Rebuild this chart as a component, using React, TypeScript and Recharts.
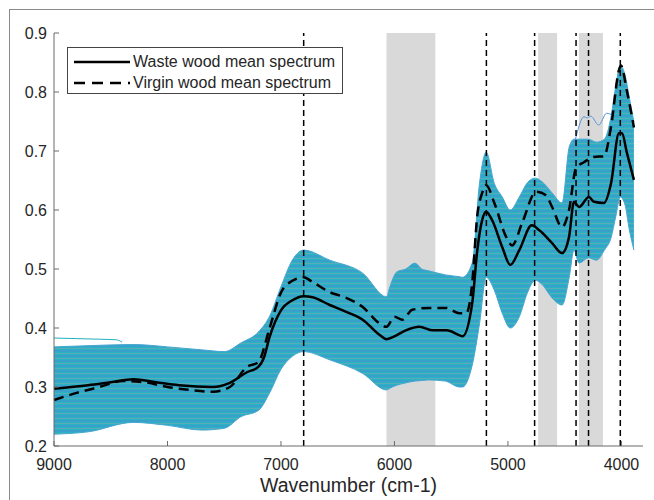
import React from 'react'
import { ComposedChart, Area, Line, XAxis, YAxis, ReferenceArea, ReferenceLine } from 'recharts'

// envelope of all individual spectra (cm-1 / absorbance)
const envWave = [9000, 8700, 8300, 8000, 7700, 7500, 7350, 7200, 7100, 7000, 6900, 6800, 6570, 6280, 6070, 6040, 5980, 5900, 5820, 5760, 5700, 5550, 5430, 5400, 5315, 5250, 5192, 5120, 5050, 4980, 4900, 4830, 4760, 4700, 4611, 4523, 4460, 4418, 4374, 4290, 4220, 4150, 4090, 4050, 4010, 3970, 3930, 3890]
const envUpper = [0.368, 0.37, 0.372, 0.368, 0.363, 0.36, 0.375, 0.393, 0.42, 0.47, 0.515, 0.532, 0.515, 0.493, 0.453, 0.47, 0.495, 0.5, 0.51, 0.5, 0.497, 0.49, 0.487, 0.486, 0.51, 0.646, 0.698, 0.645, 0.622, 0.6, 0.622, 0.646, 0.654, 0.648, 0.629, 0.612, 0.707, 0.72, 0.72, 0.72, 0.715, 0.72, 0.76, 0.81, 0.845, 0.83, 0.79, 0.749]
const envLower = [0.22, 0.224, 0.24, 0.235, 0.227, 0.23, 0.25, 0.26, 0.29, 0.33, 0.352, 0.36, 0.346, 0.323, 0.295, 0.298, 0.303, 0.307, 0.31, 0.311, 0.312, 0.31, 0.3, 0.3, 0.337, 0.408, 0.486, 0.464, 0.425, 0.4, 0.419, 0.459, 0.481, 0.474, 0.451, 0.439, 0.486, 0.532, 0.51, 0.519, 0.515, 0.532, 0.554, 0.589, 0.622, 0.61, 0.566, 0.532]

// two stray spectra above the main bundle
const strayAWave = [9000, 8800, 8600, 8450, 8400]
const strayAVal = [0.383, 0.382, 0.381, 0.38, 0.376]
const strayBWave = [4440, 4400, 4330, 4300, 4270, 4200, 4130, 4092]
const strayBVal = [0.69, 0.724, 0.758, 0.756, 0.759, 0.744, 0.764, 0.762]

const wasteWave = [9000, 8700, 8500, 8300, 8100, 7900, 7600, 7450, 7300, 7200, 7150, 7100, 7000, 6900, 6800, 6720, 6570, 6420, 6280, 6130, 6070, 6010, 5900, 5780, 5660, 5540, 5430, 5400, 5315, 5270, 5227, 5192, 5140, 5050, 4980, 4900, 4790, 4726, 4611, 4523, 4462, 4418, 4374, 4286, 4242, 4154, 4092, 4022, 3995, 3952, 3890]
const wasteMean = [0.297, 0.303, 0.308, 0.313, 0.308, 0.303, 0.3, 0.307, 0.325, 0.334, 0.35, 0.385, 0.43, 0.447, 0.454, 0.452, 0.439, 0.427, 0.414, 0.388, 0.381, 0.385, 0.396, 0.402, 0.396, 0.396, 0.388, 0.386, 0.442, 0.532, 0.583, 0.597, 0.583, 0.537, 0.507, 0.532, 0.574, 0.566, 0.544, 0.527, 0.554, 0.614, 0.605, 0.622, 0.614, 0.612, 0.645, 0.73, 0.73, 0.697, 0.651]

const virginWave = [9000, 8800, 8600, 8400, 8200, 8000, 7800, 7600, 7450, 7300, 7200, 7100, 7000, 6900, 6800, 6722, 6573, 6423, 6282, 6133, 6071, 6000, 5930, 5843, 5693, 5544, 5430, 5368, 5315, 5271, 5227, 5192, 5120, 5015, 4963, 4875, 4752, 4664, 4611, 4523, 4462, 4400, 4330, 4242, 4154, 4092, 4022, 4005, 3950, 3890]
const virginMean = [0.278, 0.29, 0.3, 0.31, 0.308, 0.3, 0.295, 0.292, 0.3, 0.334, 0.342, 0.4, 0.46, 0.48, 0.486, 0.478, 0.461, 0.451, 0.436, 0.408, 0.402, 0.419, 0.414, 0.431, 0.434, 0.434, 0.425, 0.425, 0.476, 0.589, 0.629, 0.642, 0.612, 0.554, 0.54, 0.578, 0.631, 0.625, 0.605, 0.571, 0.6, 0.671, 0.681, 0.69, 0.691, 0.741, 0.837, 0.845, 0.8, 0.74]

// excluded regions and marked peaks
const bandStart = [6070, 4734, 4374]
const bandEnd = [5640, 4567, 4163]
const peakLines = [6800, 5190, 4765, 4400, 4290, 4010]

const xTicks = [4000, 5000, 6000, 7000, 8000, 9000]
const yTicks = [0.2, 0.3, 0.4, 0.5, 0.6, 0.7, 0.8, 0.9]

const envelope = envWave.map((w, i) => ({ w, range: [envLower[i], envUpper[i]] }))
const strayA = strayAWave.map((w, i) => ({ w, v: strayAVal[i] }))
const strayB = strayBWave.map((w, i) => ({ w, v: strayBVal[i] }))
const waste = wasteWave.map((w, i) => ({ w, v: wasteMean[i] }))
const virgin = virginWave.map((w, i) => ({ w, v: virginMean[i] }))

const font = '"Liberation Sans", Arial, Helvetica, sans-serif'
const axisColor = '#6b6b6b'
const textColor = '#262626'

const XTick = ({ x, y, payload }: any) => (
  <g>
    <line x1={x} x2={x} y1={y} y2={y - 5} stroke={axisColor} />
    <text x={x} y={y + 24} textAnchor="middle" fontSize={16} fill={textColor} fontFamily={font}>
      {payload.value}
    </text>
  </g>
)

const YTick = ({ x, y, payload }: any) => (
  <g>
    <line x1={x} x2={x + 5} y1={y} y2={y} stroke={axisColor} />
    <text x={x - 7} y={y + 6} textAnchor="end" fontSize={16} fill={textColor} fontFamily={font}>
      {payload.value.toFixed(1)}
    </text>
  </g>
)

export default function App() {
  return (
    <div style={{ position: 'absolute', left: 0, top: 0, width: 654, height: 500, background: '#fff', fontFamily: font }}>
      <div style={{ position: 'absolute', left: 9, top: 9, width: 645, height: 491, borderTop: '1px solid #8a8a8a', borderLeft: '1px solid #8a8a8a' }} />
      <ComposedChart width={654} height={500} margin={{ top: 33, right: 11, bottom: 24, left: 0 }}>
        <defs>
          <pattern id="spectra" patternUnits="userSpaceOnUse" width="9" height="5">
            <rect width="9" height="5" fill="#27b3c3" />
            <line x1="0" x2="9" y1="1" y2="1" stroke="#4a8ed6" strokeWidth="1" />
            <line x1="0" x2="9" y1="3.5" y2="3.5" stroke="#7aa3b0" strokeWidth="0.8" opacity="0.8" />
          </pattern>
        </defs>
        <XAxis
          dataKey="w"
          type="number"
          domain={[3810, 9000]}
          reversed
          ticks={xTicks}
          allowDuplicatedCategory={false}
          tick={<XTick />}
          tickLine={false}
          tickSize={0}
          tickMargin={0}
          height={30}
          axisLine={{ stroke: axisColor }}
        />
        <YAxis
          type="number"
          domain={[0.2, 0.9]}
          ticks={yTicks}
          tick={<YTick />}
          tickLine={false}
          tickSize={0}
          tickMargin={0}
          width={54}
          axisLine={{ stroke: axisColor }}
        />
        {bandStart.map((s, i) => (
          <ReferenceArea key={'b' + i} x1={s} x2={bandEnd[i]} y1={0.2} y2={0.9} fill="#d9d9d9" fillOpacity={1} stroke="none" />
        ))}
        <Area data={envelope} dataKey="range" type="monotone" stroke="#45a6d0" strokeWidth={1} fill="url(#spectra)" fillOpacity={1} isAnimationActive={false} dot={false} activeDot={false} />
        <Line data={strayA} dataKey="v" type="monotone" stroke="#1fb0bf" strokeWidth={1} dot={false} isAnimationActive={false} />
        <Line data={strayB} dataKey="v" type="monotone" stroke="#5a95d8" strokeWidth={1} dot={false} isAnimationActive={false} />
        <Line data={virgin} dataKey="v" type="monotone" stroke="#000" strokeWidth={2.5} strokeDasharray="10 6" dot={false} isAnimationActive={false} />
        <Line data={waste} dataKey="v" type="monotone" stroke="#000" strokeWidth={2.5} dot={false} isAnimationActive={false} />
        {peakLines.map((p) => (
          <ReferenceLine key={p} x={p} stroke="#000" strokeWidth={1.5} strokeDasharray="6 4" />
        ))}
      </ComposedChart>
      <div style={{ position: 'absolute', left: 67, top: 47, width: 274, height: 45, border: '1px solid #444', background: '#fff', fontSize: 16, color: textColor }}>
        <div style={{ position: 'absolute', left: 6, top: 4, display: 'flex', alignItems: 'center', height: 20 }}>
          <svg width={56} height={6}><line x1={0} x2={56} y1={3} y2={3} stroke="#000" strokeWidth={2.5} /></svg>
          <span style={{ marginLeft: 3 }}>Waste wood mean spectrum</span>
        </div>
        <div style={{ position: 'absolute', left: 6, top: 25, display: 'flex', alignItems: 'center', height: 20 }}>
          <svg width={56} height={6}><line x1={0} x2={56} y1={3} y2={3} stroke="#000" strokeWidth={2.5} strokeDasharray="11 7" /></svg>
          <span style={{ marginLeft: 3 }}>Virgin wood mean spectrum</span>
        </div>
      </div>
      <div style={{ position: 'absolute', left: 54, width: 589, top: 474, textAlign: 'center', fontSize: 19.5, color: textColor }}>
        Wavenumber (cm-1)
      </div>
    </div>
  )
}
